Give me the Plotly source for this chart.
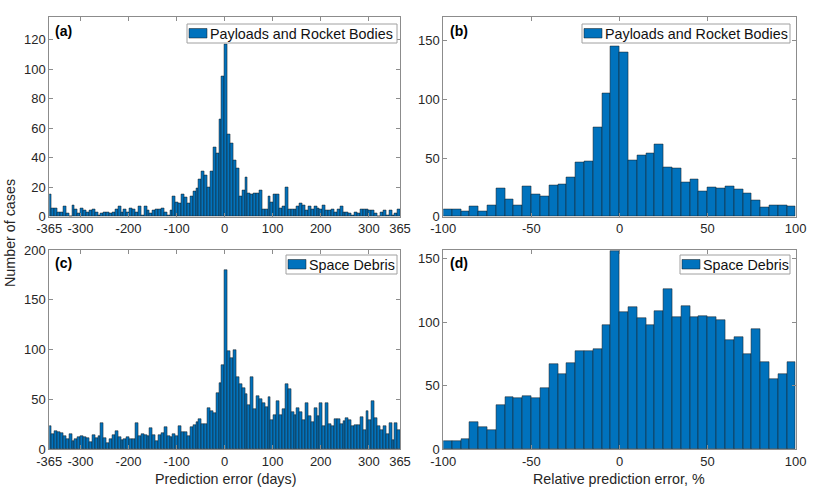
import plotly.graph_objects as go

# bin edges (histogram categories)
day_edges = list(range(-366, 367, 6))
pct_edges = list(range(-100, 101, 5))

# counts
payloads_days = [15, 6, 6, 3, 3, 7, 2, 0, 8, 5, 2, 6, 4, 3, 4, 5, 3, 1, 2, 3,
                 3, 2, 3, 5, 7, 3, 5, 3, 6, 5, 3, 7, 1, 7, 4, 2, 4, 5, 5, 6,
                 3, 1, 4, 14, 10, 9, 15, 13, 9, 14, 17, 19, 25, 31, 28, 20, 31, 47, 43, 66,
                 95, 117, 56, 50, 38, 33, 14, 18, 27, 16, 15, 16, 16, 18, 5, 5, 14, 10, 15, 15,
                 6, 7, 20, 5, 5, 5, 7, 9, 8, 4, 7, 5, 7, 6, 5, 8, 4, 4, 5, 3,
                 5, 7, 3, 3, 2, 1, 3, 2, 5, 5, 5, 4, 4, 2, 0, 3, 4, 1, 4, 1,
                 2, 5]
debris_days = [23, 15, 18, 17, 16, 13, 10, 15, 8, 10, 12, 13, 12, 11, 7, 14, 11, 13, 26, 11,
               6, 10, 14, 18, 12, 9, 10, 12, 10, 10, 26, 13, 15, 14, 13, 21, 14, 8, 14, 16,
               22, 13, 12, 15, 13, 23, 17, 17, 13, 22, 24, 27, 30, 25, 25, 41, 38, 36, 56, 66,
               84, 180, 98, 91, 100, 72, 65, 61, 55, 44, 72, 40, 53, 50, 46, 42, 52, 29, 34, 48,
               34, 40, 65, 60, 37, 34, 41, 37, 29, 46, 33, 27, 41, 33, 46, 23, 46, 25, 23, 30,
               30, 25, 28, 31, 29, 23, 24, 24, 32, 19, 38, 29, 48, 31, 23, 19, 23, 15, 26, 9,
               26, 19]
payloads_pct = [6, 6, 5, 9, 5, 10, 24, 15, 10, 26, 19, 17, 27, 28, 34, 46, 47, 76, 105, 145,
                140, 48, 52, 54, 62, 42, 41, 29, 32, 22, 25, 24, 26, 23, 20, 14, 8, 10, 10, 9]
debris_pct = [6, 6, 8, 21, 17, 15, 35, 41, 40, 42, 40, 48, 67, 59, 68, 77, 77, 79, 98, 156,
              108, 112, 103, 98, 109, 126, 104, 113, 104, 105, 104, 102, 86, 88, 75, 95, 69, 55, 59, 69]

day_ticks = [-365, -300, -200, -100, 0, 100, 200, 300, 365]
pct_ticks = [-100, -50, 0, 50, 100]


def centers(edges):
    return [(a + b) / 2 for a, b in zip(edges[:-1], edges[1:])]


W, H = 830, 490
FONT = "Liberation Sans, Helvetica, Arial, sans-serif"
BLUE = "#0072BD"
LINE = "#8c8c8c"

fig = go.Figure()

panels = [
    ("x", "y", day_edges, payloads_days, "Payloads and Rocket Bodies"),
    ("x2", "y2", pct_edges, payloads_pct, "Payloads and Rocket Bodies"),
    ("x3", "y3", day_edges, debris_days, "Space Debris"),
    ("x4", "y4", pct_edges, debris_pct, "Space Debris"),
]
for xa, ya, edges, counts, name in panels:
    fig.add_trace(go.Bar(
        x=centers(edges), y=counts, width=edges[1] - edges[0],
        xaxis=xa, yaxis=ya, name=name, showlegend=False,
        marker=dict(color=BLUE, line=dict(color="#1a1a1a", width=0.5)),
    ))


def axis(domain, anchor, rng, ticks, dtick=None):
    d = dict(domain=domain, anchor=anchor, range=rng, ticks="inside", ticklen=4,
             mirror="allticks", showline=True, linecolor=LINE, linewidth=1,
             tickcolor=LINE, showgrid=False, zeroline=False, automargin=False,
             tickfont=dict(family=FONT, size=13, color="#262626"))
    if ticks is not None:
        d["tickvals"] = ticks
        d["ticktext"] = [str(t) for t in ticks]
    if dtick is not None:
        d["tick0"] = 0
        d["dtick"] = dtick
    return d


xl = [49.3 / W, 400 / W]
xr = [443.3 / W, 795.7 / W]
yt = [1 - 216.7 / H, 1 - 17.3 / H]
yb = [1 - 449 / H, 1 - 250 / H]

fig.update_layout(
    width=W, height=H,
    margin=dict(l=0, r=0, t=0, b=0, autoexpand=False),
    paper_bgcolor="white", plot_bgcolor="white",
    bargap=0, showlegend=False,
    font=dict(family=FONT, color="#262626"),
    xaxis=axis(xl, "y", [-365, 365], day_ticks),
    yaxis=axis(yt, "x", [0, 135], None, 20),
    xaxis2=axis(xr, "y2", [-100, 100], pct_ticks),
    yaxis2=axis(yt, "x2", [0, 170], None, 50),
    xaxis3=axis(xl, "y3", [-365, 365], day_ticks),
    yaxis3=axis(yb, "x3", [0, 200], None, 50),
    xaxis4=axis(xr, "y4", [-100, 100], pct_ticks),
    yaxis4=axis(yb, "x4", [0, 157], None, 50),
)

# legend boxes drawn in pixel positions of the figure
legends = [
    ("Payloads and Rocket Bodies", 187, 397, 24, 43),
    ("Payloads and Rocket Bodies", 582, 790, 24, 43),
    ("Space Debris", 286, 397, 255, 274),
    ("Space Debris", 680, 790, 255, 274),
]
for txt, x0, x1, y0, y1 in legends:
    fig.add_shape(type="rect", xref="paper", yref="paper",
                  x0=x0 / W, x1=x1 / W, y0=1 - y1 / H, y1=1 - y0 / H,
                  fillcolor="white", line=dict(color="#a0a0a0", width=1))
    fig.add_shape(type="rect", xref="paper", yref="paper",
                  x0=(x0 + 2) / W, x1=(x0 + 20) / W,
                  y0=1 - (y1 - 5) / H, y1=1 - (y0 + 4.5) / H,
                  fillcolor=BLUE, line=dict(color="#1a1a1a", width=0.5))
    fig.add_annotation(text=txt, xref="paper", yref="paper",
                       x=(x0 + 21) / W, y=1 - (y0 + y1) / 2 / H,
                       xanchor="left", yanchor="middle", showarrow=False,
                       font=dict(family=FONT, size=14.3, color="#111"))

labels = [("(a)", 53, 31), ("(b)", 448, 31), ("(c)", 53, 263), ("(d)", 448, 263)]
for txt, px, py in labels:
    fig.add_annotation(text="<b>%s</b>" % txt, xref="paper", yref="paper",
                       x=px / W, y=1 - py / H, xanchor="left", yanchor="middle",
                       showarrow=False, font=dict(family=FONT, size=14, color="#000"))

fig.add_annotation(text="Prediction error (days)", xref="paper", yref="paper",
                   x=225 / W, y=1 - 479 / H, xanchor="center", yanchor="middle",
                   showarrow=False, font=dict(family=FONT, size=14.3, color="#262626"))
fig.add_annotation(text="Relative prediction error, %", xref="paper", yref="paper",
                   x=619 / W, y=1 - 479 / H, xanchor="center", yanchor="middle",
                   showarrow=False, font=dict(family=FONT, size=14.3, color="#262626"))
fig.add_annotation(text="Number of cases", xref="paper", yref="paper",
                   x=10 / W, y=1 - 233 / H, xanchor="center", yanchor="middle",
                   textangle=-90, showarrow=False,
                   font=dict(family=FONT, size=14.3, color="#262626"))

# drop the page's default body margin so the figure sits at the window's corner
fig.write_html("out.html", config={"displayModeBar": False},
               post_script="document.body.style.margin='0';")
